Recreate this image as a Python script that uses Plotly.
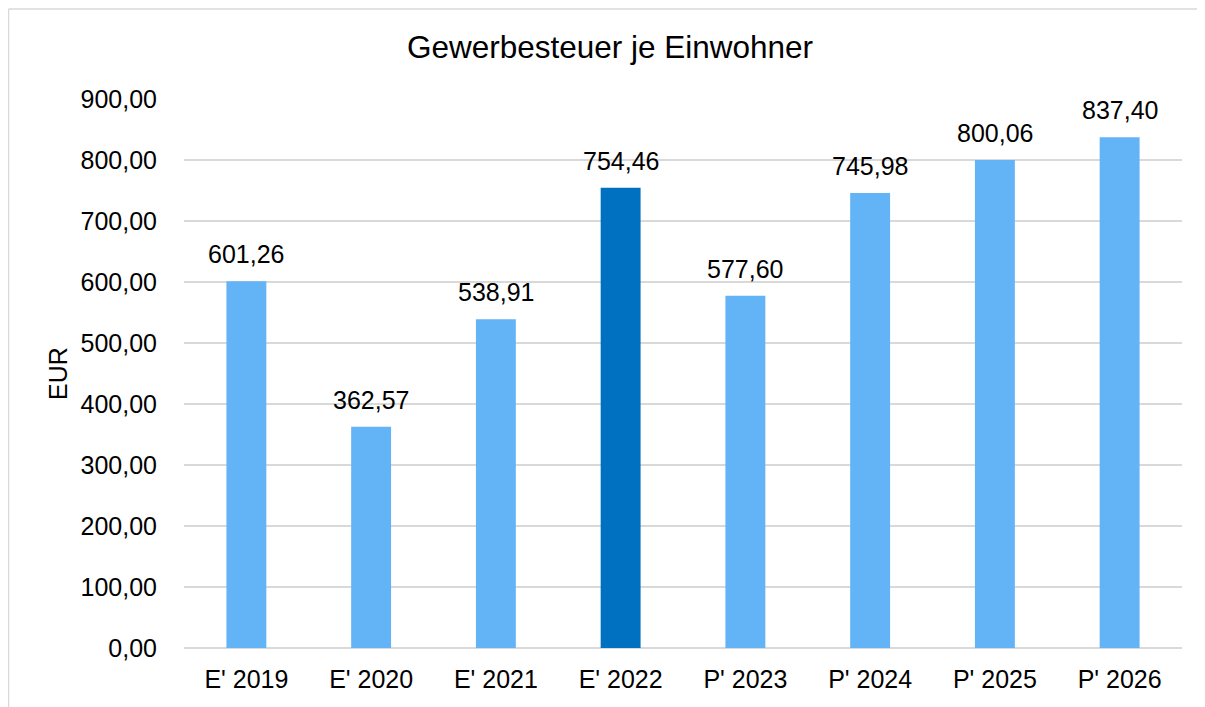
import plotly.graph_objects as go

categories = ["E' 2019", "E' 2020", "E' 2021", "E' 2022", "P' 2023", "P' 2024", "P' 2025", "P' 2026"]
values = [601.26, 362.57, 538.91, 754.46, 577.60, 745.98, 800.06, 837.40]
highlight = "E' 2022"
y_ticks = [0, 100, 200, 300, 400, 500, 600, 700, 800, 900]

light = "#63B4F6"
dark = "#0070C0"
colors = [dark if c == highlight else light for c in categories]

FONT = "Liberation Sans, Arial, sans-serif"

# page has an 8px body margin, so the figure is drawn 8px in from the top-left
W, H = 1197, 699
L, R, T, B = 176, 23, 91, 59
pw, ph = W - L - R, H - T - B

fig = go.Figure()
fig.add_trace(go.Bar(x=categories, y=values, marker=dict(color=colors, line=dict(width=0)),
                     width=0.32, hoverinfo="skip"))

for c, v in zip(categories, values):
    fig.add_annotation(x=c, y=v, text=f"{v:.2f}".replace(".", ","), showarrow=False,
                       yanchor="bottom", yshift=11, font=dict(size=25, color="#000000", family=FONT))

fig.update_layout(
    width=W, height=H,
    margin=dict(l=L, r=R, t=T, b=B),
    paper_bgcolor="white", plot_bgcolor="white",
    separators=",.",
    font=dict(family=FONT, color="#000000", size=25),
    title=dict(text="Gewerbesteuer je Einwohner", x=602 / W, xref="container", xanchor="center",
               y=1 - 39 / H, yref="container", yanchor="middle",
               font=dict(size=31.5, color="#000000", family=FONT)),
    showlegend=False,
    bargap=0.68,
)
fig.update_yaxes(range=[0, 900], tickvals=y_ticks, tickformat=".2f", showgrid=True,
                 gridcolor="#D9D9D9", gridwidth=1.5, zeroline=True, zerolinecolor="#D9D9D9",
                 zerolinewidth=1.5, showline=False, ticks="", ticklabelstandoff=26,
                 title=dict(text="EUR", standoff=5, font=dict(size=25, family=FONT)),
                 tickfont=dict(size=25))
fig.update_xaxes(showgrid=False, showline=False, ticks="", ticklabelstandoff=14,
                 tickfont=dict(size=25))

# outer chart-area border (left and top edges visible)
bx0 = (0.5 - L) / pw
bx1 = (W + 10 - L) / pw
by0 = (T + ph - (H + 10)) / ph
by1 = (T + ph - 1) / ph
border = dict(color="#D9D9D9", width=1.5)
fig.add_shape(type="line", xref="paper", yref="paper", x0=bx0, x1=bx0, y0=by0, y1=by1,
              line=border, layer="below")
fig.add_shape(type="line", xref="paper", yref="paper", x0=bx0, x1=bx1, y0=by1, y1=by1,
              line=border, layer="below")

fig.write_html("out.html")
